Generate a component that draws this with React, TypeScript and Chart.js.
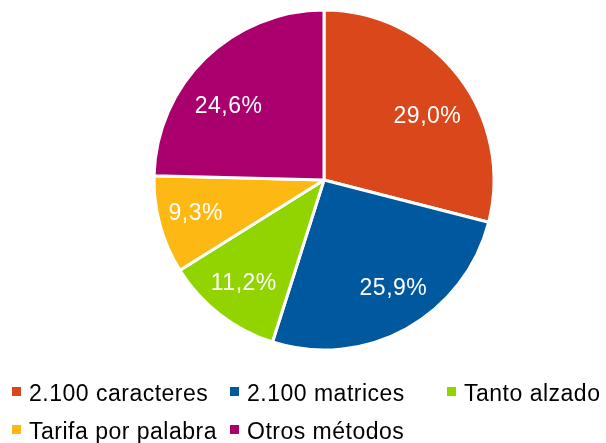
import React, { useEffect, useRef } from "react";
import { Chart, registerables } from "chart.js";

Chart.register(...registerables);

const categories = ["2.100 caracteres", "2.100 matrices", "Tanto alzado", "Tarifa por palabra", "Otros métodos"];
const shares = [29.0, 25.9, 11.2, 9.3, 24.6];
const colors = ["#D9471A", "#00599E", "#92D400", "#FDB813", "#AA006E"];

// layout constants (label nudges in px, legend grid)
const labelNudge = [[0, 17], [6, -6], [0, 0], [-2, -1], [-4, 20]];
const legendCols = [12, 230, 447];
const legendRows = [401, 439];

const FONT = 'Arial, "Liberation Sans", sans-serif';

const labelPlugin = {
  id: "sliceLabels",
  afterDatasetsDraw(chart: any) {
    const ctx = chart.ctx;
    const meta = chart.getDatasetMeta(0);
    const data = chart.data.datasets[0].data as number[];
    ctx.save();
    ctx.font = `23px ${FONT}`;
    (ctx as any).letterSpacing = "0.5px";
    ctx.fillStyle = "#ffffff";
    ctx.textAlign = "center";
    ctx.textBaseline = "middle";
    meta.data.forEach((arc: any, i: number) => {
      const { x, y, startAngle, endAngle, outerRadius } = arc.getProps(
        ["x", "y", "startAngle", "endAngle", "outerRadius"],
        true
      );
      const mid = (startAngle + endAngle) / 2;
      const r = outerRadius * 0.77;
      const n = labelNudge[i] || [0, 0];
      const tx = x + Math.cos(mid) * r + n[0];
      const ty = y + Math.sin(mid) * r + n[1];
      ctx.fillText(data[i].toFixed(1).replace(".", ",") + "%", tx, ty);
    });
    ctx.restore();
  },
};

const legendPlugin = {
  id: "gridLegend",
  afterDraw(chart: any) {
    const ctx = chart.ctx;
    const labels = chart.data.labels as string[];
    const bg = chart.data.datasets[0].backgroundColor as string[];
    ctx.save();
    ctx.font = `23px ${FONT}`;
    (ctx as any).letterSpacing = "0.5px";
    ctx.textAlign = "left";
    ctx.textBaseline = "alphabetic";
    labels.forEach((lab, i) => {
      const col = i % 3;
      const row = Math.floor(i / 3);
      const x = legendCols[col];
      const base = legendRows[row];
      ctx.fillStyle = bg[i];
      ctx.fillRect(x, base - 14, 9, 9);
      ctx.fillStyle = "#000000";
      ctx.fillText(lab, x + 17, base);
    });
    ctx.restore();
  },
};

export default function App() {
  const ref = useRef<HTMLCanvasElement | null>(null);
  useEffect(() => {
    if (!ref.current) return;
    const chart = new Chart(ref.current, {
      type: "pie",
      data: {
        labels: categories,
        datasets: [
          {
            data: shares,
            backgroundColor: colors,
            borderColor: "#ffffff",
            borderWidth: 3,
            radius: 170,
          } as any,
        ],
      },
      options: {
        animation: false,
        responsive: true,
        maintainAspectRatio: false,
        layout: { padding: { top: 10, bottom: 93, left: 155, right: 113 } },
        plugins: {
          legend: { display: false },
          tooltip: { enabled: false },
        },
        events: [],
      },
      plugins: [labelPlugin, legendPlugin],
    });
    return () => chart.destroy();
  }, []);
  return (
    <div style={{ position: "fixed", left: 0, top: 0, width: 606, height: 443, background: "#fff" }}>
      <canvas ref={ref} />
    </div>
  );
}
